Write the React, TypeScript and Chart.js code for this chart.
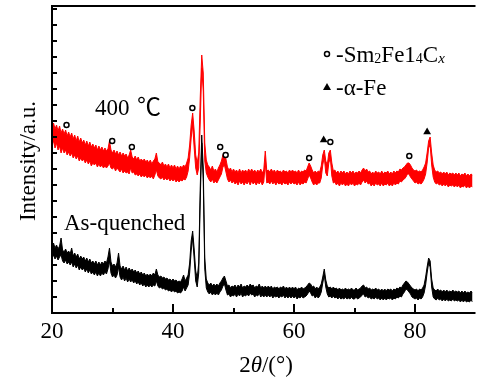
import { useEffect, useRef } from 'react';
import { Chart, registerables } from 'chart.js';

Chart.register(...registerables);

// 2θ sampling grid (degrees): 20 … 90 every 0.25°
const ANGLE_START = 20;
const ANGLE_STEP = 0.25;

// 400 ℃ pattern: upper and lower edge of the noise band (arbitrary units, offset trace)
const RED_HIGH = [
  186,190,184,188, 182,187,180,184, 179,183,177,181, 176,180,174,178, 172,177,171,175,
  170,173,168,172, 167,171,166,169, 165,168,163,167, 163,166,162,165, 162,164,172,163,
  160,163,159,162, 158,161,157,160, 157,159,155,158, 163,156,154,157, 153,156,152,154,
  152,154,151,153, 150,153,149,152, 154,160,151,150, 148,151,147,149, 146,149,145,148,
  145,148,144,147, 144,147,145,148, 146,150,155,168, 188,200,182,158, 150,160,215,258,
  240,170,153,148, 146,143,147,142, 144,141,145,148, 152,158,161,154, 146,143,145,141,
  144,141,143,140, 144,140,143,141, 143,140,144,141, 144,141,143,140, 143,141,144,140,
  143,162,142,143, 141,144,141,143, 140,143,141,142, 140,143,141,142, 140,143,141,143,
  141,142,140,143, 140,142,141,143, 142,146,150,147, 143,140,142,140, 142,141,147,158,
  163,152,148,160, 163,150,142,143, 140,142,139,142, 140,142,139,141, 139,142,140,142,
  139,141,140,142, 140,143,145,142, 144,141,142,139, 141,139,142,140, 141,139,142,139,
  141,140,142,139, 141,139,142,140, 142,141,144,143, 145,146,148,150, 150,148,145,143,
  142,143,141,142, 141,143,146,150, 160,172,176,160, 148,143,141,142, 140,141,139,141,
  139,141,138,140, 139,140,138,140, 138,140,137,139, 138,140,137,139, 137,139,138,139,
  137,
];
const RED_LOW = [
  168,172,165,170, 163,167,160,165, 160,163,158,161, 157,160,155,158, 154,157,152,155,
  152,154,150,153, 149,152,147,150, 148,150,146,149, 146,148,145,147, 145,147,150,145,
  144,146,142,145, 143,141,144,140, 142,140,141,139, 145,140,141,138, 139,137,139,136,
  138,136,138,135, 137,135,137,134, 138,143,137,135, 134,136,133,135, 133,135,132,134,
  132,134,131,133, 131,133,132,134, 133,136,142,155, 175,188,165,145, 138,145,190,245,
  222,152,140,136, 133,131,134,130, 132,130,133,136, 139,146,148,141, 134,131,133,130,
  132,129,131,128, 132,129,131,128, 131,129,132,128, 132,129,131,128, 131,129,132,128,
  131,150,130,131, 129,132,129,131, 128,131,129,130, 128,131,129,130, 128,131,129,131,
  129,130,128,131, 128,130,129,131, 130,134,138,135, 131,128,130,128, 130,130,135,148,
  156,140,137,150, 155,137,130,131, 128,130,127,130, 128,130,127,129, 127,130,128,130,
  127,129,128,130, 128,131,133,130, 132,129,130,127, 129,127,130,128, 129,127,130,127,
  129,128,130,127, 129,127,130,128, 130,129,132,131, 133,134,136,139, 139,136,134,132,
  130,131,129,130, 129,131,134,139, 150,165,168,148, 136,131,129,130, 128,129,127,129,
  127,129,126,128, 127,128,126,128, 126,128,125,127, 126,128,125,127, 125,127,126,127,
  125,
];

// As-quenched pattern: upper and lower edge of the noise band
const BLACK_HIGH = [
  66,70,65,68, 64,67,75,63, 61,64,60,62, 59,65,57,60, 56,59,54,57,
  54,56,52,55, 51,54,50,52, 49,52,48,51, 48,51,49,52, 50,56,65,51,
  47,49,46,50, 60,47,44,47, 43,46,42,45, 42,44,41,43, 40,42,39,41,
  38,40,37,39, 37,39,37,40, 38,44,38,36, 37,35,36,34, 35,33,34,32,
  34,32,33,31, 32,31,34,38, 32,35,38,50, 72,82,64,42, 35,50,125,178,
  145,55,34,30, 28,30,27,29, 27,29,27,30, 32,35,37,32, 27,28,25,27,
  26,28,25,28, 26,29,25,27, 26,28,26,29, 27,28,25,27, 26,29,25,27,
  25,27,25,27, 25,27,24,26, 25,26,24,26, 25,27,24,26, 24,26,24,26,
  24,26,23,25, 24,26,24,25, 26,28,30,29, 26,27,24,26, 24,26,29,36,
  44,33,27,25, 26,24,26,24, 25,23,25,23, 24,23,25,23, 24,23,25,23,
  23,25,23,24, 25,27,28,25, 26,24,25,23, 24,23,25,23, 24,22,24,22,
  24,22,24,23, 24,22,24,23, 25,24,26,25, 28,30,32,31, 29,27,25,24,
  23,24,22,24, 23,25,28,36, 46,55,52,34, 25,23,22,24, 22,23,21,23,
  21,23,21,22, 21,23,21,22, 21,22,20,22, 20,22,20,21, 20,22,20,21,
  20,
];
const BLACK_LOW = [
  55,58,54,57, 53,56,58,52, 50,53,49,51, 48,51,46,49, 45,48,43,46,
  43,45,41,44, 40,43,39,41, 38,41,37,40, 37,40,38,41, 39,44,52,40,
  36,38,35,38, 46,36,33,36, 32,35,31,34, 31,33,30,32, 29,31,28,30,
  27,29,26,28, 26,28,26,28, 27,32,27,25, 26,24,25,23, 24,22,23,21,
  23,21,22,20, 21,20,22,26, 22,25,28,40, 62,75,54,32, 26,40,112,170,
  132,44,25,21, 19,21,18,20, 18,20,18,21, 23,27,29,23, 18,19,16,18,
  17,19,16,19, 17,20,16,18, 17,19,17,20, 18,19,16,18, 17,20,16,18,
  16,18,16,18, 16,18,15,17, 16,17,15,17, 16,18,15,17, 15,17,15,17,
  15,17,14,16, 15,17,15,16, 17,19,22,20, 17,18,15,17, 15,17,21,30,
  38,26,19,16, 17,15,17,15, 16,14,16,14, 15,14,16,14, 15,14,16,14,
  14,16,14,15, 16,18,19,16, 17,15,16,14, 15,14,16,14, 15,13,15,13,
  15,13,15,14, 15,13,15,14, 16,15,17,16, 19,21,24,23, 21,19,16,15,
  14,15,13,15, 14,16,20,28, 40,50,46,26, 16,14,13,15, 13,14,12,14,
  12,14,12,13, 12,14,12,13, 12,13,11,13, 11,13,11,12, 11,13,11,12,
  11,
];

// Sm2Fe14Cx peak markers (open circles)
const CIRCLE_X = [22.4, 29.95, 33.2, 43.2, 47.8, 48.7, 62.5, 66.0, 79.05];
const CIRCLE_Y = [188, 172, 166, 205, 166, 158, 155, 171, 157];
// α-Fe peak markers (filled triangles)
const TRI_X = [64.9, 82.0];
const TRI_Y = [173, 181];

const X_MIN = 20;
const X_MAX = 89.5;
const X_STEP = 10;
const X_LABELED = [20, 40, 60, 80];
const X_MAJOR_TICKS = [40, 60, 80];
const X_MINOR_TICKS = [30, 50, 70];
const Y_MAX = 307;
const Y_STEP = 16;

const SERIF = '"Liberation Serif", "Times New Roman", serif';

function toPoints(values: number[]) {
  return values.map((v, i) => ({ x: ANGLE_START + i * ANGLE_STEP, y: v }));
}

const decoPlugin = {
  id: 'deco',
  afterDraw(chart: any) {
    const ctx: CanvasRenderingContext2D = chart.ctx;
    const area = chart.chartArea;
    const xs = chart.scales['x'];
    const ys = chart.scales['y'];
    const left = area.left;
    const right = area.right;
    const top = area.top;
    const bottom = area.bottom;
    const xPix = (v: number) => {
      const p = xs.getPixelForValue(v);
      if (Number.isFinite(p) && p >= left && p <= right) return p;
      return left + ((v - X_MIN) / (X_MAX - X_MIN)) * (right - left);
    };
    ctx.save();
    ctx.fillStyle = '#000000';
    // frame (top, left, bottom)
    ctx.fillRect(left - 1, top - 1, right - left + 4, 2);
    ctx.fillRect(left - 1, top - 1, 2, bottom - top + 2);
    ctx.fillRect(left - 1, bottom - 1, right - left + 4, 2);
    // inward x ticks: major and minor
    X_MAJOR_TICKS.forEach((v) => {
      const px = Math.round(xPix(v));
      ctx.fillRect(px - 1, bottom - 9, 2, 9);
    });
    X_MINOR_TICKS.forEach((v) => {
      const px = Math.round(xPix(v));
      ctx.fillRect(px - 1, bottom - 5, 2, 5);
    });
    // inward y ticks
    for (let v = Y_STEP; v < Y_MAX; v += Y_STEP) {
      const py = Math.round(ys.getPixelForValue(v));
      ctx.fillRect(left, py - 1, 5, 2);
    }

    // texts
    ctx.textBaseline = 'alphabetic';
    ctx.textAlign = 'left';
    ctx.font = `23px ${SERIF}`;
    ctx.fillText('400', 95, 115);
    ctx.font = `24px "Liberation Serif", "Noto Sans CJK SC", serif`;
    ctx.fillText('℃', 137, 115);
    ctx.font = `23px ${SERIF}`;
    ctx.fillText('As-quenched', 64, 230);

    // legend
    ctx.strokeStyle = '#000';
    ctx.lineWidth = 1.5;
    ctx.fillStyle = '#fff';
    ctx.beginPath();
    ctx.arc(327, 54, 2.5, 0, Math.PI * 2);
    ctx.fill();
    ctx.stroke();
    ctx.fillStyle = '#000';
    ctx.beginPath();
    ctx.moveTo(327, 83);
    ctx.lineTo(323, 90);
    ctx.lineTo(331, 90);
    ctx.closePath();
    ctx.fill();

    const segs: [string, string, number][] = [
      ['-Sm', `23px ${SERIF}`, 0],
      ['2', `14px ${SERIF}`, 1],
      ['Fe1', `23px ${SERIF}`, 0],
      ['4', `14px ${SERIF}`, 1],
      ['C', `23px ${SERIF}`, 0],
      ['x', `italic 15px ${SERIF}`, 1],
    ];
    let cx = 336;
    segs.forEach(([s, f, dy]) => {
      ctx.font = f;
      ctx.fillText(s, cx, 62 + dy);
      cx += ctx.measureText(s).width;
    });
    ctx.font = `23px ${SERIF}`;
    ctx.fillText('-α-Fe', 336, 95);

    // x title: 2θ/(°)
    const xt: [string, string][] = [
      ['2', `23px ${SERIF}`],
      ['θ', `italic 23px ${SERIF}`],
      ['/(°)', `23px ${SERIF}`],
    ];
    let tw = 0;
    xt.forEach(([s, f]) => { ctx.font = f; tw += ctx.measureText(s).width; });
    let tx = 266 - tw / 2;
    xt.forEach(([s, f]) => {
      ctx.font = f;
      ctx.fillText(s, tx, 372);
      tx += ctx.measureText(s).width;
    });

    // y title
    ctx.save();
    ctx.translate(29, 161);
    ctx.rotate(-Math.PI / 2);
    ctx.textAlign = 'center';
    ctx.textBaseline = 'middle';
    ctx.font = `23px ${SERIF}`;
    ctx.fillText('Intensity/a.u.', 0, 0);
    ctx.restore();

    ctx.restore();
  },
};

function band(label: string, values: number[], color: string, order: number, fill: any) {
  return {
    label,
    data: toPoints(values),
    borderColor: color,
    backgroundColor: color,
    borderWidth: 1,
    pointRadius: 0,
    tension: 0,
    fill,
    order,
  };
}

export default function App() {
  const ref = useRef<HTMLCanvasElement>(null);
  useEffect(() => {
    if (!ref.current) return;
    const chart = new Chart(ref.current, {
      type: 'line',
      data: {
        datasets: [
          {
            label: 'Sm2Fe14Cx',
            data: CIRCLE_X.map((x, i) => ({ x, y: CIRCLE_Y[i] })),
            showLine: false,
            pointStyle: 'circle',
            pointRadius: 2.5,
            pointBorderWidth: 1.5,
            pointBackgroundColor: '#fff',
            pointBorderColor: '#000',
            order: 0,
          },
          {
            label: 'α-Fe',
            data: TRI_X.map((x, i) => ({ x, y: TRI_Y[i] })),
            showLine: false,
            pointStyle: 'triangle',
            pointRadius: 4.5,
            pointBorderWidth: 0,
            pointBackgroundColor: '#000',
            pointBorderColor: '#000',
            order: 0,
          },
          band('400 ℃ high', RED_HIGH, '#ff0000', 1, false),
          band('400 ℃ low', RED_LOW, '#ff0000', 1, '-1'),
          band('As-quenched high', BLACK_HIGH, '#000000', 2, false),
          band('As-quenched low', BLACK_LOW, '#000000', 2, '-1'),
        ],
      },
      options: {
        animation: false,
        responsive: false,
        devicePixelRatio: 1,
        layout: { padding: { top: 6, right: 0, left: 0, bottom: 0 } },
        plugins: { legend: { display: false }, tooltip: { enabled: false } },
        scales: {
          x: {
            type: 'linear',
            min: X_MIN,
            max: X_MAX,
            grid: { display: false, drawTicks: false },
            border: { display: false },
            ticks: {
              stepSize: X_STEP,
              includeBounds: false,
              autoSkip: false,
              maxRotation: 0,
              padding: 5,
              color: '#000',
              font: { family: SERIF, size: 23 },
              callback: (v: any) => (X_LABELED.includes(Number(v)) ? String(v) : ''),
            },
            afterFit: (s: any) => { s.height = 67; },
          },
          y: {
            type: 'linear',
            min: 0,
            max: Y_MAX,
            grid: { display: false, drawTicks: false },
            border: { display: false },
            ticks: { display: false, stepSize: Y_STEP },
            afterFit: (s: any) => { s.width = 52; },
          },
        },
      },
      plugins: [decoPlugin],
    });
    return () => chart.destroy();
  }, []);
  return (
    <div style={{ position: 'absolute', left: 0, top: 0, width: 478, height: 380, background: '#fff' }}>
      <canvas ref={ref} width={478} height={380} />
    </div>
  );
}
